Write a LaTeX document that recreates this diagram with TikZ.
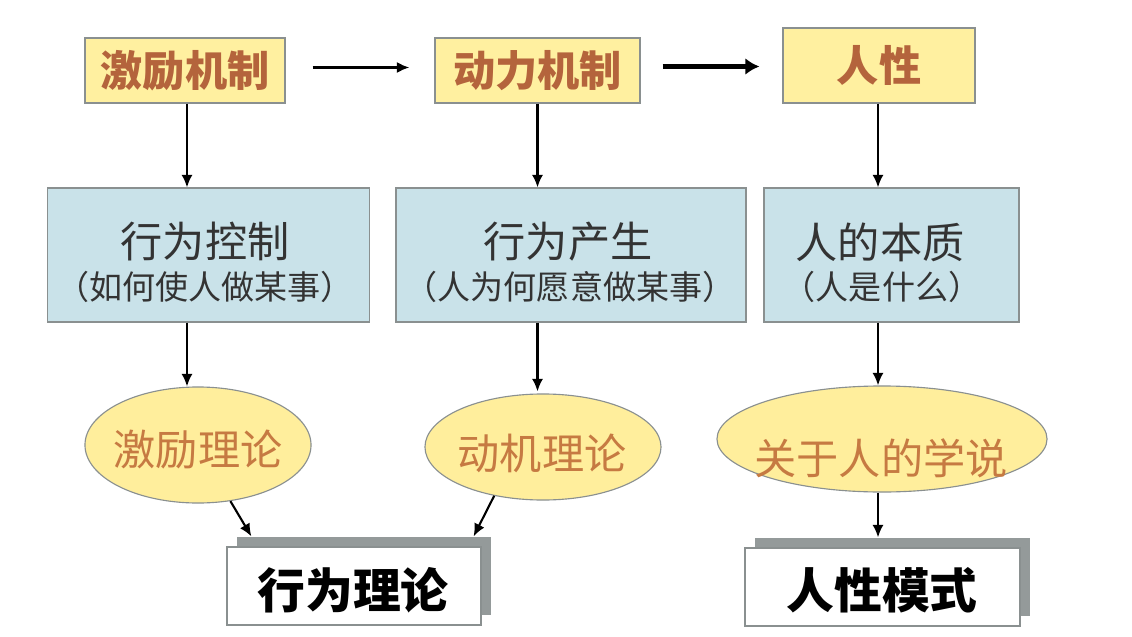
\documentclass[tikz,border=0pt]{standalone}
\usepackage{fontspec}
\newfontfamily\cjk{Noto Sans CJK SC}
\usetikzlibrary{arrows.meta,shapes.geometric,shadows,calc}
\definecolor{topfill}{HTML}{FFF0A0}
\definecolor{bluefill}{HTML}{C9E2E9}
\definecolor{ellfill}{HTML}{FFEE9C}
\definecolor{brown1}{HTML}{B4643C}
\definecolor{brown2}{HTML}{C67A42}
\definecolor{edge}{HTML}{8A9090}
\definecolor{shade}{HTML}{949A9A}
\definecolor{txtgray}{HTML}{333333}
\tikzset{
  topbox/.style={draw=edge, line width=0.8pt, fill=topfill, inner sep=0pt,
    font=\cjk\bfseries\fontsize{30}{36}\selectfont, text=brown1},
  bluebox/.style={draw=edge, line width=0.8pt, fill=bluefill, inner sep=0pt},
  line1/.style={font=\cjk\fontsize{30}{36}\selectfont, text=txtgray, inner sep=0pt},
  line2/.style={font=\cjk\fontsize{23.5}{28}\selectfont, text=txtgray, inner sep=0pt},
  ell/.style={ellipse, draw=edge, line width=0.8pt, fill=ellfill, inner sep=0pt},
  elltext/.style={font=\cjk\fontsize{30}{36}\selectfont, text=brown2, inner sep=0pt},
  botbox/.style={draw=edge, line width=0.8pt, fill=white, inner sep=0pt,
    general shadow={fill=shade, shadow xshift=0.25cm, shadow yshift=0.25cm}},
  bottext/.style={font=\cjk\bfseries\fontsize{34}{40}\selectfont, text=black, inner sep=0pt},
  arr/.style={line width=1.5pt, -{Latex[length=9pt,width=8pt]}},
  thinarr/.style={line width=1.6pt, -{Latex[length=9pt,width=8pt]}},
  thickarr/.style={line width=3.5pt, -{Latex[length=10pt,width=12pt]}}
}
\begin{document}
\begin{tikzpicture}[x=0.025cm, y=-0.025cm]
\useasboundingbox[fill=white] (0,0) rectangle (1132,637);
% top row
\node[topbox, minimum width=5cm, minimum height=1.625cm] (a1) at (185,70.5) {激励机制};
\node[topbox, minimum width=5.125cm, minimum height=1.625cm] (a2) at (537.5,70.5) {动力机制};
\node[topbox, minimum width=4.8cm, minimum height=1.875cm] (a3) at (879,65.5) {人性};
% blue row
\node[bluebox, minimum width=8.05cm, minimum height=3.35cm] (b1) at (208.5,255) {};
\node[bluebox, minimum width=8.75cm, minimum height=3.35cm] (b2) at (571,255) {};
\node[bluebox, minimum width=6.375cm, minimum height=3.35cm] (b3) at (891.5,255) {};
\node[line1] (b1t) at (205,242) {行为控制};
\node[line2] (b1s) at (205,287) {（如何使人做某事）};
\node[line1] (b2t) at (568,242) {行为产生};
\node[line2] (b2s) at (570,287) {（人为何愿意做某事）};
\node[line1] (b3t) at (880,242) {人的本质};
\node[line2] (b3s) at (882,287) {（人是什么）};
% ellipses
\node[ell, minimum width=5.65cm, minimum height=2.9cm] (e1) at (198,445) {};
\node[ell, minimum width=5.9cm, minimum height=2.65cm] (e2) at (543,447) {};
\node[ell, minimum width=8.25cm, minimum height=2.65cm] (e3) at (882,439) {};
\node[elltext] (e1t) at (198,450) {激励理论};
\node[elltext] (e2t) at (542,453) {动机理论};
\node[elltext] (e3t) at (881,458) {关于人的学说};
% bottom boxes
\node[botbox, minimum width=6.35cm, minimum height=1.95cm] (d1) at (354,586) {};
\node[botbox, minimum width=6.875cm, minimum height=1.95cm] (d2) at (882.5,587) {};
\node[bottext] (d1t) at (353,590) {行为理论};
\node[bottext] (d2t) at (882,590) {人性模式};
% horizontal arrows
\draw[thinarr, shorten <=0.675cm, shorten >=0.625cm] ($(a1.east)+(0,-3)$) coordinate (h1s) -- (h1s -| a2.west);
\draw[thickarr, shorten <=0.55cm, shorten >=0.575cm] ($(a2.east)+(0,-4)$) coordinate (h2s) -- (h2s -| a3.west);
% vertical arrows
\draw[arr] ($(a1.south)+(2,0)$) coordinate (v1) -- (v1 |- b1.north);
\draw[arr] (a2.south) -- (a2.south |- b2.north);
\draw[arr] ($(a3.south)+(-1,0)$) coordinate (v3) -- (v3 |- b3.north);
\draw[arr] (v1 |- b1.south) -- (v1 |- e1.north);
\draw[arr] (a2.south |- b2.south) -- ($(a2.south |- e2.north)+(0,-2)$);
\draw[arr] (v3 |- b3.south) -- (v3 |- e3.north);
% to bottom boxes
\draw[arr] (e1.-60) -- ($(d1.north west)+(25,-10)$) coordinate (d1in1);
\draw[arr] (e2.-135) -- ($(d1.north east)+(-8,-10)$) coordinate (d1in2);
\draw[arr] (v3 |- e3.south) -- ($(v3 |- d2.north)+(0,-10)$) coordinate (d2in);
\end{tikzpicture}
\end{document}
